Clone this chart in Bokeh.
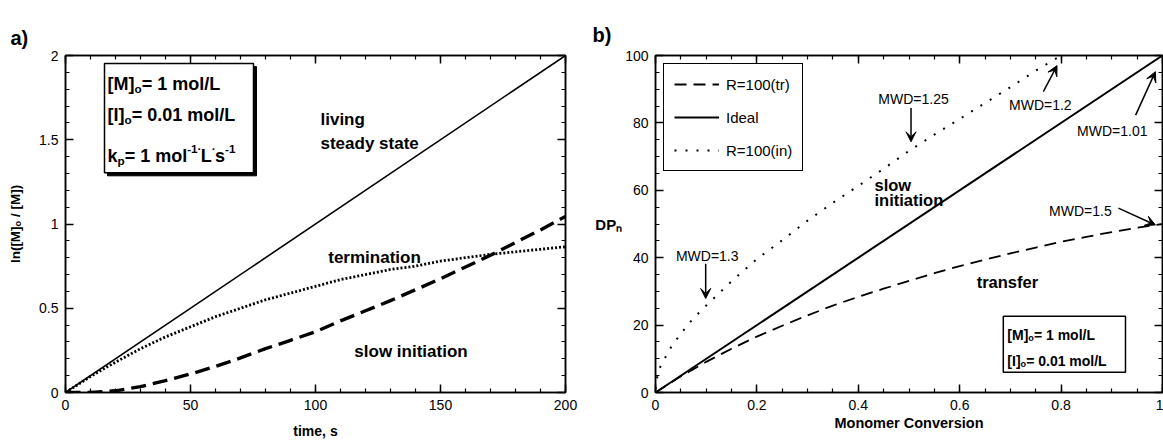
from bokeh.plotting import figure
from bokeh.models import (Range1d, LinearAxis, SingleIntervalTicker, NumeralTickFormatter,
                          CustomJSTickFormatter, Label, BoxAnnotation, Arrow, VeeHead,
                          Legend, LegendItem)
from bokeh.layouts import row
from bokeh.embed import file_html
from bokeh.resources import INLINE

# ---------------- data: panel a ----------------
time_s = [0, 10, 20, 30, 40, 50, 60, 70, 80, 90, 100, 110, 120, 130, 140, 150, 160, 170, 180, 190, 200]
ideal_t = [0, 200]
ideal_ln = [0.0, 2.0]
termination_ln = [0, 0.095, 0.18, 0.26, 0.33, 0.39, 0.45, 0.50, 0.55, 0.59, 0.63, 0.67, 0.70,
                  0.73, 0.75, 0.78, 0.80, 0.82, 0.835, 0.85, 0.865]
slow_init_ln = [0, 0.0, 0.01, 0.035, 0.07, 0.11, 0.155, 0.205, 0.26, 0.31, 0.36, 0.425, 0.485,
                0.545, 0.61, 0.675, 0.745, 0.815, 0.89, 0.965, 1.045]

# ---------------- data: panel b ----------------
conv_ideal = [0.0, 1.0]
dp_ideal = [0.0, 100.0]
conv_tr = [0, 0.05, 0.1, 0.15, 0.2, 0.25, 0.3, 0.35, 0.4, 0.45, 0.5, 0.55, 0.6, 0.65, 0.7,
           0.75, 0.8, 0.85, 0.9, 0.95, 1.0]
dp_tr = [0, 4.8, 9.1, 13.0, 16.6, 19.8, 22.9, 25.8, 28.4, 30.8, 33.1, 35.4, 37.5, 39.4, 41.3,
         43.0, 44.7, 46.2, 47.6, 48.9, 50.0]
conv_in = [0, 0.005, 0.015, 0.03, 0.05, 0.075, 0.1, 0.15, 0.2, 0.25, 0.3, 0.35, 0.4, 0.45,
           0.5, 0.55, 0.6, 0.65, 0.7, 0.75, 0.8]
dp_in = [1.0, 6.3, 9.2, 13.3, 17.5, 22.1, 25.8, 33.0, 39.6, 45.2, 51.0, 56.3, 61.3, 66.4,
         71.7, 76.5, 81.2, 85.9, 90.6, 95.5, 100.0]

FONT = "Liberation Sans"

# Arial/Liberation Sans Bold advance widths (1/1000 em)
AB = {' ': 278, '(': 333, ')': 333, '[': 333, ']': 333, '/': 278, '=': 584, '.': 278,
      '-': 333, '\u00b7': 278, 'M': 833, 'I': 278, 'L': 611, 'D': 722, 'P': 667,
      'k': 556, 'p': 611, 'o': 611, 'm': 889, 'l': 278, 's': 556, 'n': 611}


def tw(s, size):
    return sum(AB.get(c, 556) for c in s) * size / 1000.0


def rich(p, x, y, pieces, size, sx, sy):
    """Left-aligned text built of pieces (text, kind) with kind n/sub/sup; sx, sy = px per unit."""
    small = size * 0.65
    off = 0.0
    for t, k in pieces:
        fs = size if k == 'n' else small
        dy = 0.0 if k == 'n' else (-0.25 * size if k == 'sub' else 0.42 * size)
        p.add_layout(Label(x=x + off / sx, y=y + dy / sy, text=t, text_font=FONT,
                           text_font_size=f"{fs:.1f}px", text_font_style="bold",
                           text_color="black", text_align="left", text_baseline="alphabetic"))
        off += tw(t, fs)


def lab(p, x, y, text, size, bold=True, align="center"):
    p.add_layout(Label(x=x, y=y, text=text, text_font=FONT, text_font_size=f"{size}px",
                       text_font_style="bold" if bold else "normal", text_color="black",
                       text_align=align, text_baseline="alphabetic"))


def style(p, xtick, ytick, xfmt, yfmt):
    p.xgrid.visible = False
    p.ygrid.visible = False
    p.outline_line_color = "black"
    p.outline_line_width = 1.5
    p.outline_line_alpha = 1.0
    p.background_fill_color = "white"
    p.border_fill_color = "white"
    bottom = p.below[0]
    left = p.left[0]
    bottom.ticker = xtick
    left.ticker = ytick
    bottom.formatter = xfmt
    left.formatter = yfmt
    blank = CustomJSTickFormatter(code="return ''")
    top = LinearAxis(ticker=xtick, formatter=blank)
    right = LinearAxis(ticker=ytick, formatter=blank)
    p.add_layout(top, "above")
    p.add_layout(right, "right")
    for ax in (bottom, left, top, right):
        ax.axis_line_color = "black"
        ax.axis_line_width = 1.5
        ax.major_tick_line_color = "black"
        ax.major_tick_line_width = 1.5
        ax.minor_tick_line_color = "black"
        ax.minor_tick_line_width = 1.2
        ax.major_tick_in = 8
        ax.major_tick_out = 0
        ax.minor_tick_in = 4
        ax.minor_tick_out = 0
        ax.major_label_text_font = FONT
        ax.major_label_text_font_size = "14px"
        ax.major_label_text_color = "black"
        ax.major_label_standoff = 7
        ax.axis_label_text_font = FONT
        ax.axis_label_text_font_style = "bold"
        ax.axis_label_text_color = "black"
    for ax in (top, right):
        ax.major_label_standoff = 0
    return bottom, left


def box(p, l, r, b, t, fill, lw):
    p.add_layout(BoxAnnotation(left=l, right=r, bottom=b, top=t, fill_color=fill, fill_alpha=1.0,
                               line_color="black", line_alpha=1.0, line_width=lw))


# ======================= panel a =======================
pa = figure(width=583, height=444, x_range=Range1d(0, 200), y_range=Range1d(0, 2),
            output_backend="svg", toolbar_location=None, title="a)",
            min_border_left=65, min_border_right=18, min_border_top=55, min_border_bottom=52)
ba, la = style(pa, SingleIntervalTicker(interval=50, num_minor_ticks=5),
               SingleIntervalTicker(interval=0.5, num_minor_ticks=5),
               NumeralTickFormatter(format="0"), NumeralTickFormatter(format="0.[0]"))
ba.axis_label = "time, s"
ba.axis_label_text_font_size = "14px"
ba.axis_label_standoff = 10
la.axis_label = "ln([M]\u2092 / [M])"
la.axis_label_text_font_size = "13.5px"
la.axis_label_standoff = 13
pa.title.text_font = FONT
pa.title.text_font_size = "20px"
pa.title.text_font_style = "bold"
pa.title.text_color = "black"
pa.title.align = "left"
pa.title.offset = -55
pa.title.standoff = 14

pa.line(ideal_t, ideal_ln, line_color="black", line_width=1.6)
pa.line(time_s, termination_ln, line_color="black", line_width=2.8, line_dash="2 2")
pa.line(time_s, slow_init_ln, line_color="black", line_width=3.4, line_dash="15 7")

SXA, SYA = 2.5, 168.5  # px per data unit in panel a

box(pa, 16.8, 76.4, 1.286, 1.934, "black", 1)
box(pa, 15.6, 75.2, 1.304, 1.952, "white", 1.5)
rich(pa, 16.8, 1.828, [("[M]", 'n'), ("o", 'sub'), ("= 1 mol/L", 'n')], 18, SXA, SYA)
rich(pa, 16.8, 1.644, [("[I]", 'n'), ("o", 'sub'), ("= 0.01 mol/L", 'n')], 18, SXA, SYA)
rich(pa, 16.8, 1.401, [("k", 'n'), ("p", 'sub'), ("= 1 mol", 'n'), ("-1\u00b7", 'sup'),
                       ("L", 'n'), ("\u00b7", 'sup'), ("s", 'n'), ("-1", 'sup')], 18, SXA, SYA)

lab(pa, 102, 1.618, "living", 17, align="left")
lab(pa, 102, 1.477, "steady state", 17, align="left")
lab(pa, 123.6, 0.803, "termination", 17)
lab(pa, 138.2, 0.243, "slow initiation", 17)

# ======================= panel b =======================
pb = figure(width=580, height=444, x_range=Range1d(0, 1), y_range=Range1d(0, 100),
            output_backend="svg", toolbar_location=None, title="b)",
            min_border_left=72, min_border_right=1, min_border_top=53, min_border_bottom=51)
bb, lb = style(pb, SingleIntervalTicker(interval=0.2, num_minor_ticks=4),
               SingleIntervalTicker(interval=20, num_minor_ticks=4),
               NumeralTickFormatter(format="0.[0]"), NumeralTickFormatter(format="0"))
bb.axis_label = "Monomer Conversion"
bb.axis_label_text_font_size = "14.5px"
bb.axis_label_standoff = 2
lb.axis_label = "DP\u2099"
lb.axis_label_text_font_size = "15px"
lb.axis_label_orientation = "horizontal"
lb.axis_label_standoff = 0
pb.title.text_font = FONT
pb.title.text_font_size = "20px"
pb.title.text_font_style = "bold"
pb.title.text_color = "black"
pb.title.align = "left"
pb.title.offset = -63
pb.title.standoff = 19

r_tr = pb.line(conv_tr, dp_tr, line_color="black", line_width=1.8, line_dash="12 7")
r_id = pb.line(conv_ideal, dp_ideal, line_color="black", line_width=2.0)
r_in = pb.line(conv_in, dp_in, line_color="black", line_width=2.0, line_dash="2 9")

legend = Legend(items=[LegendItem(label="R=100(tr)", renderers=[r_tr]),
                       LegendItem(label="Ideal", renderers=[r_id]),
                       LegendItem(label="R=100(in)", renderers=[r_in])],
                location="top_left", margin=8, padding=10, spacing=13,
                glyph_width=45, glyph_height=20, label_height=20, label_standoff=7,
                label_text_font=FONT, label_text_font_size="15px", label_text_color="black",
                border_line_color="black", border_line_width=1.5, border_line_alpha=1.0,
                background_fill_color="white", background_fill_alpha=1.0)
pb.add_layout(legend)

SXB, SYB = 507.0, 3.4

for txt, cx, by in (("MWD=1.25", 0.509, 87.1), ("MWD=1.2", 0.759, 85.2),
                    ("MWD=1.01", 0.901, 77.6), ("MWD=1.5", 0.838, 53.8),
                    ("MWD=1.3", 0.102, 40.6)):
    lab(pb, cx, by, txt, 14, bold=False)

for x0, y0, x1, y1 in ((0.504, 84.4, 0.504, 74.4), (0.765, 89.3, 0.792, 97.0),
                       (0.947, 82.3, 0.986, 95.2), (0.913, 54.7, 0.986, 49.7),
                       (0.099, 38.2, 0.099, 27.9)):
    pb.add_layout(Arrow(x_start=x0, y_start=y0, x_end=x1, y_end=y1, line_color="black",
                        line_width=1.5,
                        end=VeeHead(size=10, fill_color="black", line_color="black")))

lab(pb, 0.432, 61.7, "slow", 16.5, align="left")
lab(pb, 0.432, 57.1, "initiation", 16.5, align="left")
lab(pb, 0.694, 32.7, "transfer", 16.5)

box(pb, 0.686, 0.927, 6.0, 22.6, "white", 1.5)
rich(pb, 0.694, 17.1, [("[M]", 'n'), ("o", 'sub'), ("= 1 mol/L", 'n')], 14, SXB, SYB)
rich(pb, 0.694, 9.4, [("[I]", 'n'), ("o", 'sub'), ("= 0.01 mol/L", 'n')], 14, SXB, SYB)

layout = row(pa, pb)
open("out.html", "w").write(file_html(layout, INLINE))
